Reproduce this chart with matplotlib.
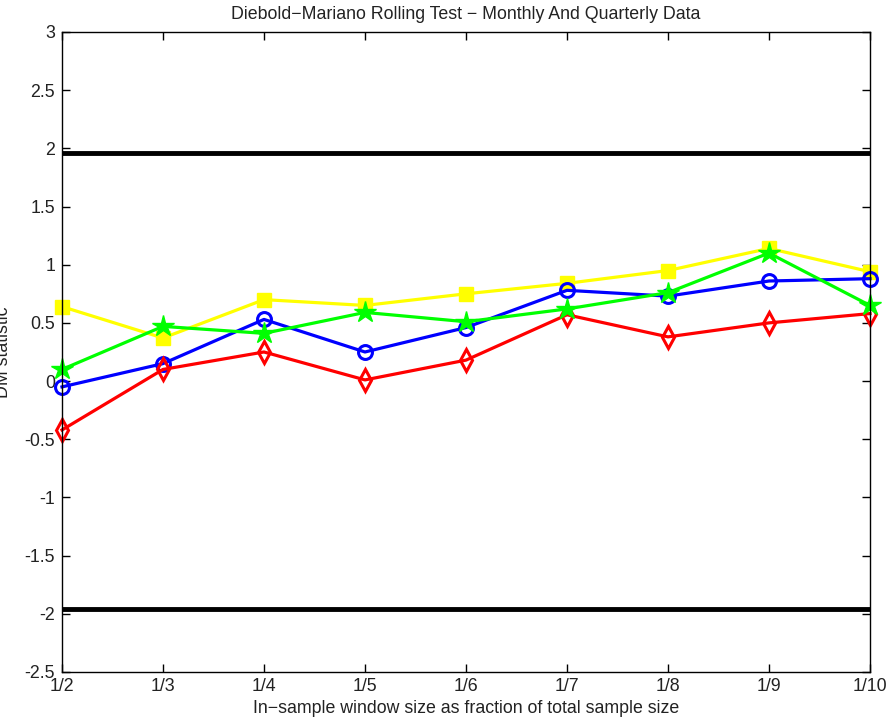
import matplotlib
matplotlib.use('Agg')
import matplotlib.pyplot as plt

# data
fractions = ['1/2', '1/3', '1/4', '1/5', '1/6', '1/7', '1/8', '1/9', '1/10']
blue = [-0.05, 0.15, 0.53, 0.25, 0.46, 0.78, 0.73, 0.86, 0.88]
red = [-0.42, 0.10, 0.25, 0.01, 0.18, 0.57, 0.38, 0.50, 0.58]
green = [0.10, 0.47, 0.41, 0.59, 0.51, 0.62, 0.76, 1.10, 0.65]
yellow = [0.64, 0.37, 0.70, 0.65, 0.75, 0.84, 0.95, 1.14, 0.94]
crit = 1.96

plt.rcParams['font.family'] = ['Liberation Sans', 'DejaVu Sans']
fs = 12.8

x = list(range(len(fractions)))

fig = plt.figure(figsize=(8.88, 7.19), dpi=100)
ax = fig.add_axes([0.0698, 0.0654, 0.9099, 0.8901])

ax.axhline(crit, color='black', linewidth=3.5)
ax.axhline(-crit, color='black', linewidth=3.5)

ax.plot(x, yellow, color='yellow', linewidth=2.3, marker='s', markersize=10,
        markerfacecolor='yellow', markeredgecolor='yellow', clip_on=False)
ax.plot(x, blue, color='blue', linewidth=2.3, marker='o', markersize=10,
        markerfacecolor='none', markeredgewidth=2.2, clip_on=False)
ax.plot(x, red, color='red', linewidth=2.3, marker='d', markersize=11,
        markerfacecolor='none', markeredgewidth=2.2, clip_on=False)
ax.plot(x, green, color='#00ff00', linewidth=2.3, marker='*', markersize=16,
        markerfacecolor='#00ff00', markeredgecolor='#00ff00', clip_on=False)

ax.set_xlim(0, len(fractions) - 1)
ax.set_ylim(-2.5, 3)
ax.set_xticks(x)
ax.set_xticklabels(fractions)
ax.set_yticks([-2.5, -2, -1.5, -1, -0.5, 0, 0.5, 1, 1.5, 2, 2.5, 3])
ax.set_yticklabels(['-2.5', '-2', '-1.5', '-1', '-0.5', '0', '0.5', '1', '1.5', '2', '2.5', '3'])
ax.tick_params(direction='in', top=True, right=True, length=6, width=1,
               labelsize=fs, labelcolor='#222222')
ax.tick_params(axis='y', pad=5)
ax.tick_params(axis='x', pad=4)
for s in ax.spines.values():
    s.set_linewidth(1)

ax.set_title('Diebold\u2212Mariano Rolling Test \u2212 Monthly And Quarterly Data',
             fontsize=fs, pad=9, color='#222222')
ax.set_xlabel('In\u2212sample window size as fraction of total sample size',
              fontsize=fs, labelpad=4, color='#222222')
ax.set_ylabel('DM statistic', fontsize=fs, color='#222222')
ax.yaxis.set_label_coords(-0.062, 0.5)

fig.savefig('out.png', dpi=100)
